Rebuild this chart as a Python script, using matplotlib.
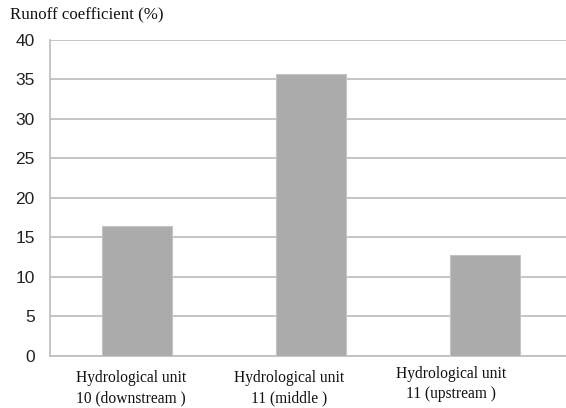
import matplotlib
matplotlib.use("Agg")
import matplotlib.pyplot as plt
from matplotlib.transforms import blended_transform_factory

# runoff coefficient by hydrological unit
units = ["Hydrological unit\n10 (downstream )",
         "Hydrological unit\n11 (middle )",
         "Hydrological unit\n11 (upstream )"]
runoff = [16.5, 35.7, 12.8]
yticks = [0, 5, 10, 15, 20, 25, 30, 35, 40]

# label nudges (category units / axes fraction)
label_dx = [-0.035, -0.125, -0.195]
label_dy = [-0.101, -0.101, -0.089]

fig = plt.figure(figsize=(5.66, 4.08), dpi=100)
ax = fig.add_axes([0.0883, 0.1275, 0.922, 0.7745])

x = list(range(len(units)))
ax.bar(x, runoff, width=0.4, color="#ababab", edgecolor="#c4c4c4",
       linewidth=0.8, zorder=3)

ax.set_xlim(-0.5, 2.5)
ax.set_ylim(0, 40)
ax.set_yticks(yticks)
ax.set_yticklabels([str(v) for v in yticks], fontsize=12.5,
                   family="Liberation Sans", color="#222222")
ax.tick_params(axis="y", length=0, pad=11)
ax.set_xticks([])
ax.yaxis.grid(True, color="#c0c0c0", linewidth=1.3, zorder=0)

for side in ["top", "right"]:
    ax.spines[side].set_visible(False)
ax.spines["left"].set_color("#c0c0c0")
ax.spines["left"].set_linewidth(1.3)
ax.spines["bottom"].set_color("#c0c0c0")
ax.spines["bottom"].set_linewidth(1.3)

trans = blended_transform_factory(ax.transData, ax.transAxes)
for i, lab in enumerate(units):
    ax.text(i + label_dx[i], label_dy[i], lab, transform=trans,
            ha="center", va="center", fontsize=11.2,
            family="Liberation Serif", color="#111111", linespacing=1.35)

fig.text(0.018, 0.962, "Runoff coefficient (%)", ha="left", va="center",
         fontsize=12.2, family="Liberation Serif", color="#111111")

fig.savefig("out.png", dpi=100)
